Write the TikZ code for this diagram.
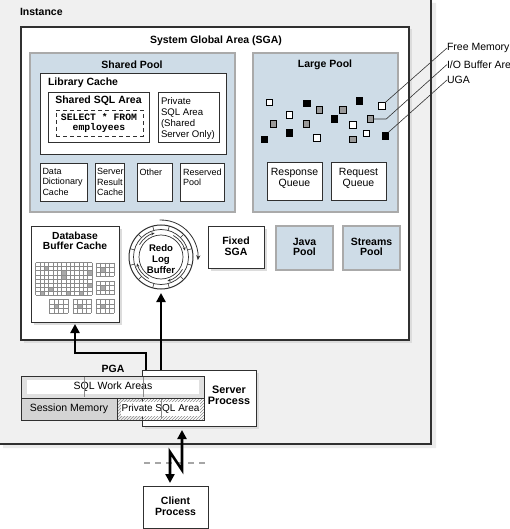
\documentclass[tikz,border=0pt]{standalone}
\usepackage{fontspec}
\setmainfont{Liberation Sans}
\setmonofont{Liberation Mono}
\usetikzlibrary{fit,calc,arrows.meta,patterns,shadows}
\definecolor{instbg}{HTML}{F0F0F0}
\definecolor{poolblue}{HTML}{CEDCE7}
\definecolor{pooledge}{HTML}{AAAAAA}
\definecolor{edgec}{HTML}{303030}
\definecolor{cellgray}{HTML}{A8A8A8}
\definecolor{gridc}{HTML}{8A8A8A}
\definecolor{shadowc}{HTML}{DCDCDC}
\begin{document}
\begin{tikzpicture}[x=1pt,y=-1pt,
  every node/.style={inner sep=0pt, outer sep=0pt, font=\fontsize{10}{11}\selectfont},
  wbox/.style={draw=edgec, line width=1pt, fill=white, inner sep=0pt},
  sbox/.style={wbox, drop shadow={shadow xshift=2.5pt, shadow yshift=-2.5pt, fill=shadowc, opacity=1}},
  pool/.style={draw=pooledge, line width=2pt, fill=poolblue, inner sep=0pt},
  hd/.style={font=\bfseries\fontsize{10.5}{10.6}\selectfont, align=center},
  rg/.style={font=\fontsize{10.5}{10.6}\selectfont, align=center},
  sm/.style={font=\fontsize{9}{10.3}\selectfont, align=left, anchor=north west},
  sq/.style={draw=black, line width=0.5pt, minimum size=6.5pt, inner sep=0pt},
  thinline/.style={draw=edgec, line width=0.6pt},
  bigarrow/.style={line width=2.6pt, -{Triangle[length=9pt,width=9pt]}},
  dblarrow/.style={line width=2.6pt, {Triangle[length=9pt,width=9pt]}-{Triangle[length=9pt,width=9pt]}}
]
\useasboundingbox (0,0) rectangle (509,529);
% Instance
\fill[instbg] (0,0) rectangle (431,444);
\fill[black!8] (432,3) rectangle (436,448) (3,445) rectangle (436,448);
\draw[edgec, line width=1.1pt] (431,0) -- (431,444) -- (0,444);
\node[hd, anchor=west] (inst) at (20,12) {Instance};

% SGA
\node[sbox, line width=1.2pt, fit={(21,27)(409,340)}] (sga) {};
\node[hd] (sgat) at (216,41) {System Global Area (SGA)};

% Shared pool
\node[pool, fit={(30,53)(235,212)}] (sp) {};
\node[hd] (spt) at (132,65) {Shared Pool};
\node[wbox, fit={(40,74)(226,155)}] (lc) {};
\node[hd, anchor=west] (lct) at (48,83) {Library Cache};
\node[wbox, fit={(48,93)(149,143)}] (ssa) {};
\node[hd] (ssat) at (98.5,101) {Shared SQL Area};
\node[draw=edgec, dashed, dash pattern=on 4pt off 3pt, line width=0.8pt, fit={(56,110)(143,136)}] (sqlbox) {};
\node[font=\ttfamily\bfseries\fontsize{9.75}{10}\selectfont, align=center] (sqltxt) at (99,123) {SELECT * FROM\\employees};
\node[wbox, fit={(158,93)(219,143)}] (psa) {};
\node[sm, font=\fontsize{9.6}{11}\selectfont] (psat) at (161,97.5) {Private\\SQL Area\\(Shared\\Server Only)};
\node[wbox, fit={(40,164)(87,202)}] (ddc) {};
\node[sm] (ddct) at (42.5,168.5) {Data\\Dictionary\\Cache};
\node[wbox, fit={(95,164)(124,202)}] (src) {};
\node[sm] (srct) at (97,168.5) {Server\\Result\\Cache};
\node[wbox, fit={(137,164)(172,202)}] (oth) {};
\node[sm] (otht) at (139.5,168.5) {Other};
\node[wbox, fit={(180,164)(224,202)}] (rsv) {};
\node[sm] (rsvt) at (183,168.5) {Reserved\\Pool};

% Large pool
\node[pool, fit={(253,53)(398,212)}] (lp) {};
\node[hd] (lpt) at (325,65) {Large Pool};
\foreach \x/\y [count=\i] in {269.3/102.3, 289.3/115, 316.7/137.7, 352.7/125, 366/133.3, 381.7/106}
  \node[sq, fill=white] (w\i) at (\x,\y) {};
\foreach \x/\y [count=\i] in {306.7/103.3, 334/119, 359.3/101, 289.3/132.7, 264/139.3, 385/135.7}
  \node[sq, fill=black] (k\i) at (\x,\y) {};
\foreach \x/\y [count=\i] in {319/110, 342.7/110, 273.3/124, 306/124, 370/119, 352.7/139.3}
  \node[sq, fill=black!40] (g\i) at (\x,\y) {};
\node[wbox, fit={(267,163)(322,201)}] (rspq) {};
\node[rg] (rspqt) at (294.5,178.5) {Response\\Queue};
\node[wbox, fit={(331,163)(386,201)}] (rqq) {};
\node[rg] (rqqt) at (358.5,178.5) {Request\\Queue};

% legend
\node[rg, anchor=west] (fm) at (447,48) {Free Memory};
\node[rg, anchor=west] (io) at (447,64.5) {I/O Buffer Area};
\node[rg, anchor=west] (uga) at (447,80) {UGA};
\draw[thinline] (w6.north east) -- (fm.west);
\draw[thinline] (g5.east) -- ++(13,0) -- (io.west);
\draw[thinline] (k6.north east) -- (uga.west);

% Database buffer cache
\node[sbox, fit={(31,226)(119,322)}] (dbc) {};
\node[hd, font=\bfseries\fontsize{10.3}{10.2}\selectfont] (dbct) at (75,241) {Database\\Buffer Cache};
\foreach \c/\r in {2/1,6/2,6/3,3/6,1/7,12/2,12/5,10/7,7/7}
  \fill[cellgray] ({35.5+\c*4.346},{262.5+\r*4.0625}) rectangle ++(4.346,4.0625);
\foreach \i in {0,...,13} \draw[gridc, line width=0.35pt] ({35.5+\i*4.346},262.5) -- ++(0,32.5);
\foreach \j in {0,...,8} \draw[gridc, line width=0.35pt] (35.5,{262.5+\j*4.0625}) -- ++(56.5,0);
\foreach \gx/\gy in {95.7/262.7, 95.7/281, 49.3/299.3, 72.7/299.3, 95.7/299.3} {
  \fill[cellgray] ({\gx+4.65},{\gy+4.5}) rectangle ++(4.65,4.5);
  \foreach \i in {0,...,4} \draw[gridc, line width=0.35pt] ({\gx+\i*4.65},\gy) -- ++(0,13.5);
  \foreach \j in {0,...,3} \draw[gridc, line width=0.35pt] (\gx,{\gy+\j*4.5}) -- ++(18.6,0);
}

% Redo log buffer
\node[circle, draw=edgec, line width=1pt, fill=white, minimum size=64pt] (redo) at (161,257) {};
\draw[edgec, line width=0.7pt] (redo.center) circle[radius=27.5pt];
\draw[edgec, line width=0.7pt] (redo.center) circle[radius=22pt];
\foreach \a in {15,45,...,345}
  \draw[edgec, line width=0.6pt] ($(redo.center)+(\a:27.5pt)$) -- ($(redo.center)+(\a:32pt)$);
\foreach \a in {150,60,-30,240}
  \draw[edgec, line width=0.7pt, -{Stealth[length=3.5pt,width=3pt]}] ($(redo.center)+(\a:24.8pt)$) arc[start angle=\a, end angle=\a-45, radius=24.8pt];
\node[hd, font=\bfseries\fontsize{9.6}{10.6}\selectfont] (redot) at (161,259) {Redo\\Log\\Buffer};
\draw[edgec, line width=0.8pt, -{Stealth[length=5pt,width=4pt]}] ($(redo.center)+(92:37pt)$) arc[start angle=92, end angle=-5, radius=37pt];

% Fixed SGA, Java, Streams
\node[sbox, fit={(208,226)(264,268)}] (fsga) {};
\node[hd] (fsgat) at (236,246) {Fixed\\SGA};
\node[pool, fit={(276,226)(333,270)}] (jp) {};
\node[hd] (jpt) at (304.5,247) {Java\\Pool};
\node[pool, fit={(343,226)(400,270)}] (stp) {};
\node[hd] (stpt) at (371.5,247) {Streams\\Pool};

% Server process and PGA
\node[sbox, fit={(142,370)(256,426)}] (srv) {};
\node[hd, font=\bfseries\fontsize{10.8}{11}\selectfont] (srvt) at (229,395) {Server\\Process};
\node[hd] (pgat) at (113,369) {PGA};
\node[draw=edgec, line width=1pt, fill=black!12, fit={(21,376)(204,398)}] (wa) {};
\node[draw=none, fill=white, fit={(27,380)(199,394)}] (wain) {};
\node[rg] (wat) at (113,387) {SQL Work Areas};
\node[draw=edgec, line width=1pt, fill=black!17, fit={(21,398)(117,420)}] (sesm) {};
\node[rg] (sesmt) at (69,409) {Session Memory};
\node[draw=edgec, line width=1pt, pattern=north east lines, pattern color=black!45, fit={(117,398)(204,420)}] (psa2) {};
\node[draw=none, fill=white, fit={(121,402)(200,416)}] (psa2in) {};
\node[rg, font=\fontsize{10}{10}\selectfont] (psa2t) at (160.5,409) {Private SQL Area};
\draw[black!45, line width=0.6pt] (84,377) -- (84,397) (143,377) -- (143,397) (161,399) -- (161,419);

% arrows
\draw[bigarrow, shorten >=2pt] ($(srv.north west)+(4,0)$) -- ++(0,-17) -| (dbc.south);
\draw[bigarrow, shorten >=4pt] (srv.north -| redo.south) -- (redo.south);

% client process
\draw[black!35, line width=2pt, dash pattern=on 6pt off 5pt] (144,463) -- (206,463);
\node[wbox, fit={(143,486)(208,528)}] (cli) {};
\node[hd] (clit) at (175.5,506) {Client\\Process};
\draw[dblarrow, shorten <=4pt, shorten >=3pt] ($(srv.south west)+(40,0)$) -- ++(0,44) -- ++(-12,-18) -- ($(cli.north west)+(27,0)$);
\end{tikzpicture}
\end{document}
